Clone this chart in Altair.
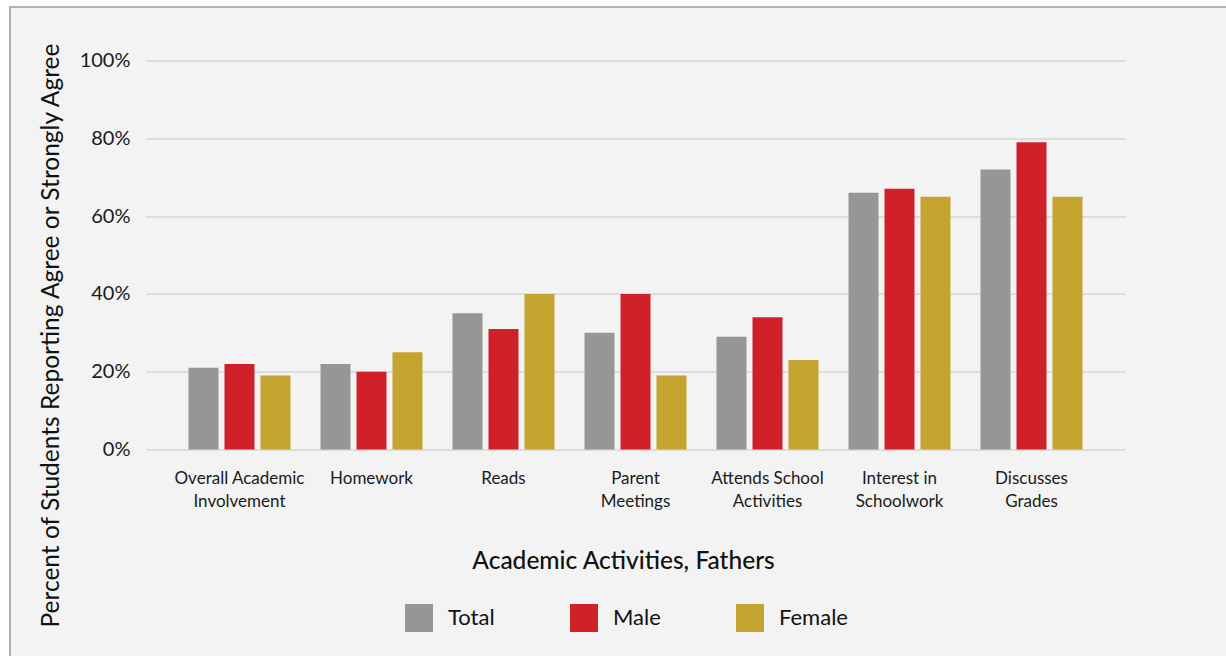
import altair as alt
import pandas as pd

categories = ["Overall Academic|Involvement", "Homework", "Reads", "Parent|Meetings",
              "Attends School|Activities", "Interest in|Schoolwork", "Discusses|Grades"]
groups = ["Total", "Male", "Female"]
total = [21, 22, 35, 30, 29, 66, 72]
male = [22, 20, 31, 40, 34, 67, 79]
female = [19, 25, 40, 19, 23, 65, 65]
colors = ["#969696", "#d0202a", "#c5a32f"]
y_ticks = [0, 0.2, 0.4, 0.6, 0.8, 1.0]

rows = []
for i, c in enumerate(categories):
    for g, vals in zip(groups, [total, male, female]):
        rows.append({"activity": c, "group": g, "value": vals[i] / 100})
df = pd.DataFrame(rows)

one = pd.DataFrame({"k": [0]})

# decorative frame (outer white strip + gray border)
strip_top = alt.Chart(one).mark_rect(color="white").encode(
    x=alt.value(-146), x2=alt.value(1200), y=alt.value(-61), y2=alt.value(-53.5))
strip_left = alt.Chart(one).mark_rect(color="white").encode(
    x=alt.value(-146), x2=alt.value(-136), y=alt.value(-61), y2=alt.value(700))
frame = alt.Chart(one).mark_rect(fillOpacity=0, stroke="#9a9a9a", strokeWidth=1.5).encode(
    x=alt.value(-136), x2=alt.value(1200), y=alt.value(-53.5), y2=alt.value(700))

bars = alt.Chart(df).mark_bar().encode(
    x=alt.X("activity:N", sort=categories,
            scale=alt.Scale(paddingInner=0.1818, paddingOuter=0.2992),
            axis=alt.Axis(title="Academic Activities, Fathers",
                          labelExpr="split(datum.label, '|')", labelAngle=0,
                          ticks=False, domain=False, labelPadding=21,
                          labelFontSize=17, labelLineHeight=23, labelBaseline="top",
                          labelColor="#1a1a1a",
                          titleFontSize=24.5, titleFontWeight=500, titleColor="#111",
                          titleX=477, titleY=119, titleBaseline="alphabetic",
                          titleAlign="center")),
    xOffset=alt.XOffset("group:N", sort=groups,
                        scale=alt.Scale(paddingInner=0.1667, paddingOuter=0.0833)),
    y=alt.Y("value:Q", scale=alt.Scale(domain=[0, 1]),
            axis=alt.Axis(title="Percent of Students Reporting Agree or Strongly Agree",
                          format=".0%", values=y_ticks, ticks=False, domain=False,
                          labelPadding=16, labelFontSize=20, labelColor="#1a1a1a",
                          gridColor="#d6d6d6", gridWidth=1.5,
                          titleFontSize=24.5, titleFontWeight="normal", titleColor="#111",
                          titleX=-88, titleY=274.5, titleAngle=270,
                          titleBaseline="alphabetic", titleAlign="center")),
    color=alt.Color("group:N", sort=groups,
                    scale=alt.Scale(domain=groups, range=colors),
                    legend=alt.Legend(orient="none", legendX=259, legendY=543.5,
                                      direction="horizontal", title=None,
                                      symbolType="square", symbolSize=784,
                                      symbolStrokeWidth=0, symbolOpacity=1,
                                      labelFontSize=22, labelOffset=15,
                                      columnPadding=75, padding=0, labelColor="#111",
                                      labelLimit=300))
)

chart = alt.layer(strip_top, strip_left, frame, bars).properties(
    width=979, height=389,
    background="#f2f3f2",
    autosize=alt.AutoSizeParams(type="none"),
    padding={"left": 146, "top": 60.5, "right": 101, "bottom": 206.5},
).configure(font="Lato").configure_view(stroke=None)

chart.save("out.html", embed_options={"renderer": "svg", "actions": False})
